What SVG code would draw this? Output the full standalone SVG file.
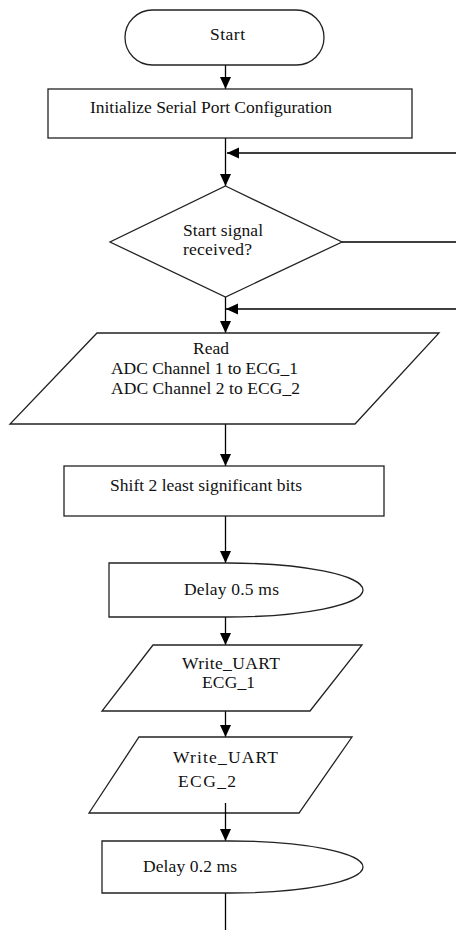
<svg xmlns="http://www.w3.org/2000/svg" width="456" height="930" viewBox="0 0 456 930">
<style>
.s{fill:#fff;stroke:#222;stroke-width:1.3}
.t{font-family:"Liberation Serif","Times New Roman",serif;font-size:17.5px;fill:#111}
.c{fill:none;stroke:#000;stroke-width:1.3}
</style>
<defs>
<marker id="ah" markerUnits="userSpaceOnUse" markerWidth="12" markerHeight="12" refX="12" refY="5.5" orient="auto">
<path d="M0,0 L12,5.5 L0,11 Z" fill="#000"/>
</marker>
</defs>
<rect width="456" height="930" fill="#fff"/>
<g id="connectors">
<path class="c" d="M225.5,65 V89" marker-end="url(#ah)"/>
<path class="c" d="M225.5,138 V186" marker-end="url(#ah)"/>
<path class="c" d="M456,153 H227" marker-end="url(#ah)"/>
<path class="c" d="M342,242 H456"/>
<path class="c" d="M225.5,297 V333" marker-end="url(#ah)"/>
<path class="c" d="M456,309 H226" marker-end="url(#ah)"/>
<path class="c" d="M225.5,424 V466" marker-end="url(#ah)"/>
<path class="c" d="M225.5,516 V563" marker-end="url(#ah)"/>
<path class="c" d="M225.5,617 V645" marker-end="url(#ah)"/>
<path class="c" d="M225.5,711 V737" marker-end="url(#ah)"/>
<path class="c" d="M225.5,893 V930"/>
</g>
<g id="start">
<rect class="s" x="125" y="10" width="199" height="55" rx="27.5" ry="27.5"/>
<text class="t" x="210" y="40" textLength="35">Start</text>
</g>
<g id="init">
<rect class="s" x="48" y="89" width="364" height="49"/>
<text class="t" x="90" y="113" textLength="242">Initialize Serial Port Configuration</text>
</g>
<g id="decision">
<polygon class="s" points="225.5,186 342,242 225.5,297 110,242"/>
<text class="t" x="183" y="236" textLength="80">Start signal</text>
<text class="t" x="183" y="255" textLength="69">received?</text>
</g>
<g id="read">
<polygon class="s" points="97,333 439,333 355,424 10,424"/>
<text class="t" x="193" y="354" textLength="36">Read</text>
<text class="t" x="111" y="374" textLength="187">ADC Channel 1 to ECG_1</text>
<text class="t" x="111" y="394" textLength="189">ADC Channel 2 to ECG_2</text>
</g>
<g id="shift">
<rect class="s" x="64" y="466" width="320" height="50"/>
<text class="t" x="110" y="491" textLength="192">Shift 2 least significant bits</text>
</g>
<g id="delay1">
<path class="s" d="M109,563 H227 A136,27 0 0 1 227,617 H109 Z"/>
<text class="t" x="184" y="595" textLength="95">Delay 0.5 ms</text>
</g>
<g id="write1">
<polygon class="s" points="153,645 362,645 310,711 102,711"/>
<text class="t" x="182" y="669" textLength="98">Write_UART</text>
<text class="t" x="202" y="688" textLength="53">ECG_1</text>
</g>
<g id="write2">
<polygon class="s" points="139,737 352,737 299,813 89,813"/>
<text class="t" x="173" y="763" textLength="105">Write_UART</text>
<text class="t" x="178" y="787" textLength="58">ECG_2</text>
</g>
<g id="connectors2">
<path class="c" d="M225.5,803 V841" marker-end="url(#ah)"/>
</g>
<g id="delay2">
<path class="s" d="M102,841 H230 A133,26 0 0 1 230,893 H102 Z"/>
<text class="t" x="143" y="872" textLength="94">Delay 0.2 ms</text>
</g>
</svg>
